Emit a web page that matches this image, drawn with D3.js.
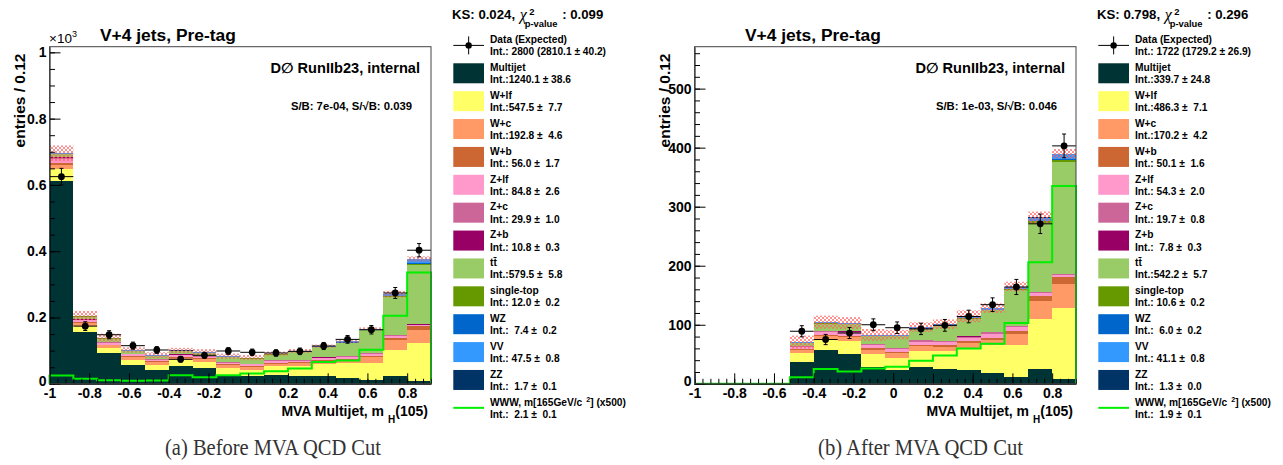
<!DOCTYPE html>
<html><head><meta charset="utf-8">
<script src="https://cdn.jsdelivr.net/npm/d3@7"></script>
<style>
body{margin:0;background:#fff}
svg{display:block;background:#fff}
</style>
</head><body>
<svg id="c" width="1283" height="465" font-family='"Liberation Sans",Arial,Helvetica,sans-serif'></svg>
<script>
// ---------------- data ----------------
const binEdges = [-1,-0.88,-0.76,-0.64,-0.52,-0.4,-0.28,-0.16,-0.04,0.08,0.2,0.32,0.44,0.56,0.68,0.8,0.92];
const seriesKeys = ["Multijet","W+lf","W+c","W+b","Z+lf","Z+c","Z+b","tt\u0304","single-top","WZ","VV","ZZ"];
const seriesColors = ["#003333","#ffff66","#ff9966","#cc6633","#ff99cc","#cc6699","#990066","#99cc66","#669900","#0066cc","#3399ff","#003366"];

// (a) Before MVA QCD cut  (entries per bin)
const beforeMultijet  = [612,156,93,57,43,53,47,25,23,28,25,23,18,10,23,8];
const beforeWlf       = [35,17,15,16,15,18,18,22,20,25,28,37,45,53,80,115];
const beforeWc        = [14,9,8,8,8,8,9,10,9,8,9,9,10,17,28,38];
const beforeWb        = [4,3,2.5,2.5,2.5,2.5,2.5,3,3,2.5,3,3,3,4,8,13];
const beforeZlf       = [12,6,5,5,4,5,5,4,4,5,4,5,5,6,5,3];
const beforeZc        = [5,2,2,2,1.5,1.5,1.5,1.5,1.5,2,1.5,2,2,2.5,2.5,1.5];
const beforeZb        = [2,1,0.7,0.7,0.6,0.6,0.6,0.6,0.5,0.6,0.5,0.6,0.7,1,1,0.7];
const beforeTtbar     = [8,9,10,8,9,9,9,14,15,17,25,30,40,68,115,180];
const beforeSingleTop = [0.5,0.5,0.5,0.4,0.4,0.5,0.5,0.6,0.6,0.6,0.6,0.7,0.8,1,2,3];
const beforeWZ        = [0.5,0.4,0.3,0.3,0.3,0.3,0.3,0.4,0.4,0.4,0.4,0.5,0.6,0.7,1,2];
const beforeVV        = [2,2,2,2,2,2,2,2,2,2,2,2.5,3,3,5,12];
const beforeZZ        = [0.1,0.1,0.1,0.1,0.1,0.1,0.1,0.1,0.1,0.1,0.1,0.1,0.1,0.1,0.2,0.3];
const beforeUnc       = [24,14,12,8,9,8,9,8,8,6,6,5,5,4,10,8];
const beforeData      = [625,174,148,115,102,74,86,99,95,93,98,114,134,163,274,403];
const beforeWWW       = [25,15,11,9,10,26,20,26,31,38,46,66,70,103,205,336];
const beforeInts = ["Int.:1240.1 \u00b1 38.6","Int.:547.5 \u00b1  7.7","Int.:192.8 \u00b1  4.6","Int.: 56.0 \u00b1  1.7","Int.: 84.8 \u00b1  2.6","Int.: 29.9 \u00b1  1.0","Int.: 10.8 \u00b1  0.3","Int.:579.5 \u00b1  5.8","Int.: 12.0 \u00b1  0.2","Int.:  7.4 \u00b1  0.2","Int.: 47.5 \u00b1  0.8","Int.:  1.7 \u00b1  0.1"];
const beforeDataInt = "Int.: 2800 (2810.1 \u00b1 40.2)";
const beforeSignalInt = "Int.:  2.1 \u00b1  0.1";
const beforeKS = ["KS: 0.024, ", ": 0.099"];
const beforeSB = "S/B: 7e-04, S/\u221AB: 0.039";
const beforeCaption = "(a) Before MVA QCD Cut";

// (b) After MVA QCD cut
const afterMultijet  = [0,0,0,0,36.7,58,51,29,24,29,25,22.6,18,12,25,8.5];
const afterWlf       = [0,0,0,0,16,15.5,21,22,20,27,30,36.8,47,54,85,119.5];
const afterWc        = [0,0,0,0,5,7,7,7,8,8,8,9.5,10,18,31,41.5];
const afterWb        = [0,0,0,0,1.5,2,2,2,2,2.5,2.5,3,3,6,8,11];
const afterZlf       = [0,0,0,0,3,5,5,5,5,5,5,6,7,6,5,4];
const afterZc        = [0,0,0,0,1,2,2,2,1.5,2,2,2,2.5,2,1.5,1.5];
const afterZb        = [0,0,0,0,0.4,0.6,0.6,0.5,0.5,0.5,0.5,0.6,0.7,0.7,0.5,0.5];
const afterTtbar     = [0,0,0,0,5,12,12,13,20,19,25,30,36,60,117,189];
const afterSingleTop = [0,0,0,0,0.3,0.5,0.5,0.5,0.5,0.6,0.6,0.8,1,1.2,2,3];
const afterWZ        = [0,0,0,0,0.2,0.3,0.3,0.3,0.3,0.4,0.4,0.5,0.5,0.8,1.5,2];
const afterVV        = [0,0,0,0,1.5,1.5,1.5,1.5,1.5,2,2,2.5,2.5,4,5,9];
const afterZZ        = [0,0,0,0,0.05,0.05,0.05,0.05,0.05,0.05,0.05,0.05,0.05,0.1,0.2,0.3];
const afterUnc       = [0,0,0,0,11,11,10,10,8,8,8,10,8,8,10,8];
const afterData      = [0,0,0,0,89,75,86,100,95,93,99,114,134,164,271,403];
const afterWWW       = [0,0,0,0,11,25,21,26,29,39,48,60,68,103,206,335];
const afterInts = ["Int.:339.7 \u00b1 24.8","Int.:486.3 \u00b1  7.1","Int.:170.2 \u00b1  4.2","Int.: 50.1 \u00b1  1.6","Int.: 54.3 \u00b1  2.0","Int.: 19.7 \u00b1  0.8","Int.:  7.8 \u00b1  0.3","Int.:542.2 \u00b1  5.7","Int.: 10.6 \u00b1  0.2","Int.:  6.0 \u00b1  0.2","Int.: 41.1 \u00b1  0.8","Int.:  1.3 \u00b1  0.0"];
const afterDataInt = "Int.: 1722 (1729.2 \u00b1 26.9)";
const afterSignalInt = "Int.:  1.9 \u00b1  0.1";
const afterKS = ["KS: 0.798, ", ": 0.296"];
const afterSB = "S/B: 1e-03, S/\u221AB: 0.046";
const afterCaption = "(b) After MVA QCD Cut";

// ticks
const xTickValues = [-1,-0.8,-0.6,-0.4,-0.2,0,0.2,0.4,0.6,0.8];
const xTickLabels = ["-1","-0.8","-0.6","-0.4","-0.2","0","0.2","0.4","0.6","0.8"];
const beforeYTickValues = [0,200,400,600,800,1000];
const beforeYTickLabels = ["0","0.2","0.4","0.6","0.8","1"];
const afterYTickValues = [0,100,200,300,400,500];
const afterYTickLabels = ["0","100","200","300","400","500"];

const titleText = "V+4 jets, Pre-tag";
const expText = "D\u2205 RunIIb23, internal";
const yLabelText = "entries / 0.12";
const dataLegendLabel = "Data (Expected)";
const signalLegendLabel = "WWW, m[165GeV/c";

// ---------------- drawing ----------------
const svg = d3.select("#c");
const defs = svg.append("defs");
const pat = defs.append("pattern").attr("id","hatch").attr("patternUnits","userSpaceOnUse")
  .attr("width",4).attr("height",4);
pat.append("path").attr("d","M-1,-1L5,5M5,-1L-1,5").attr("stroke","#ff6060").attr("stroke-width",0.7).attr("fill","none");

const FONT = '"Liberation Sans",Arial,Helvetica,sans-serif';
const SERIF = '"Liberation Serif","DejaVu Serif",serif';

function drawPanel(offsetX, cfg) {
  const g = svg.append("g").attr("transform", `translate(${offsetX},0)`).attr("font-family", FONT);
  const X0 = 49.5, X1 = 431, YB = 383.8, YT = 46.7;
  const x = d3.scaleLinear().domain([binEdges[0], binEdges[binEdges.length-1]]).range([X0, X1]);
  const y = d3.scaleLinear().domain([0, cfg.yMax]).range([YB, YT]);

  const rows = binEdges.slice(0,-1).map((lo,i) => {
    const r = {lo, hi: binEdges[i+1]};
    seriesKeys.forEach((k,j) => r[k] = cfg.series[j][i]);
    return r;
  });
  const stacked = d3.stack().keys(seriesKeys)(rows);
  const plot = g.append("g");
  stacked.forEach((layer, j) => {
    plot.append("g").attr("fill", seriesColors[j]).attr("shape-rendering","crispEdges")
      .selectAll("rect").data(layer.filter(d => d[1] - d[0] > 0)).join("rect")
      .attr("x", d => x(d.data.lo)).attr("width", d => x(d.data.hi) - x(d.data.lo))
      .attr("y", d => y(d[1])).attr("height", d => y(d[0]) - y(d[1]));
  });
  // uncertainty band
  const totals = rows.map(r => d3.sum(seriesKeys, k => r[k]));
  plot.append("g").selectAll("rect").data(rows.map((r,i) => ({r, t: totals[i], u: cfg.unc[i]})).filter(d => d.t > 0))
    .join("rect")
    .attr("x", d => x(d.r.lo)).attr("width", d => x(d.r.hi) - x(d.r.lo))
    .attr("y", d => y(d.t + d.u)).attr("height", d => y(d.t - d.u) - y(d.t + d.u))
    .attr("fill", "url(#hatch)");
  // signal step line
  const pts = [[binEdges[0], 0]];
  rows.forEach((r,i) => { pts.push([r.lo, cfg.www[i]]); pts.push([r.hi, cfg.www[i]]); });
  pts.push([binEdges[binEdges.length-1], 0]);
  plot.append("path").attr("d", d3.line().x(d => x(d[0])).y(d => y(d[1]))(pts))
    .attr("fill","none").attr("stroke","#00ee00").attr("stroke-width",2);
  // data points
  const dpts = rows.map((r,i) => ({r, v: cfg.data[i], e: Math.sqrt(cfg.data[i])})).filter(d => d.v > 0);
  const dg = plot.append("g").attr("stroke","#000").attr("stroke-width",1);
  dpts.forEach(d => {
    const cx = x((d.r.lo + d.r.hi)/2);
    dg.append("line").attr("x1", x(d.r.lo)).attr("x2", x(d.r.hi)).attr("y1", y(d.v)).attr("y2", y(d.v));
    dg.append("line").attr("x1", cx).attr("x2", cx).attr("y1", y(d.v - d.e)).attr("y2", y(d.v + d.e));
    dg.append("line").attr("x1", cx-2).attr("x2", cx+2).attr("y1", y(d.v - d.e)).attr("y2", y(d.v - d.e));
    dg.append("line").attr("x1", cx-2).attr("x2", cx+2).attr("y1", y(d.v + d.e)).attr("y2", y(d.v + d.e));
    dg.append("circle").attr("cx", cx).attr("cy", y(d.v)).attr("r", 3.4).attr("fill","#000").attr("stroke","none");
  });

  // axes
  const styleAxis = sel => sel.attr("font-family", FONT).attr("font-size", 14).attr("font-weight","bold")
    .call(s => s.selectAll("text").attr("fill","#000"))
    .call(s => s.selectAll("line,path").attr("stroke","#000"));
  g.append("g").attr("transform", `translate(${X0},0)`)
    .call(d3.axisLeft(y).tickValues(d3.range(0, cfg.yMax, cfg.yMinor)).tickFormat("").tickSize(-5.5).tickSizeOuter(0))
    .call(s => s.select(".domain").remove()).call(styleAxis);
  g.append("g").attr("transform", `translate(${X0},0)`)
    .call(d3.axisLeft(y).tickValues(cfg.yTicks).tickFormat((d,i) => cfg.yTickLabels[i]).tickSize(-11).tickSizeOuter(0).tickPadding(3))
    .call(styleAxis)
    .call(s => s.selectAll(".tick text").filter(d => d === 0).attr("dy", "0.1em"));
  g.append("g").attr("transform", `translate(0,${YB})`)
    .call(d3.axisBottom(x).tickValues(d3.range(-1, 0.9201, 0.04)).tickFormat("").tickSize(-5).tickSizeOuter(0))
    .call(s => s.select(".domain").remove()).call(styleAxis);
  g.append("g").attr("transform", `translate(0,${YB})`)
    .call(d3.axisBottom(x).tickValues(xTickValues).tickFormat((d,i) => xTickLabels[i]).tickSize(-10.5).tickSizeOuter(0).tickPadding(4.5))
    .call(styleAxis);
  // frame
  g.append("rect").attr("x", X0).attr("y", YT).attr("width", X1 - X0).attr("height", YB - YT)
    .attr("fill","none").attr("stroke","#444").attr("stroke-width",1);

  // texts
  g.append("text").attr("x", 100).attr("y", 40.5).attr("font-size", 17.4).attr("font-weight","bold").text(titleText);
  g.append("text").attr("x", 420).attr("y", 73).attr("text-anchor","end").attr("font-size", 14.6).attr("font-weight","bold")
    .attr("font-family", '"Liberation Sans","DejaVu Sans",sans-serif').text(expText);
  g.append("text").attr("x", 412).attr("y", 110).attr("text-anchor","end").attr("font-size", 11.3).attr("font-weight","bold").text(cfg.sb);
  g.append("text").attr("transform","translate(25,53.5) rotate(-90)").attr("text-anchor","end")
    .attr("font-size", 15.5).attr("font-weight","bold").text(yLabelText);
  const xt = g.append("text").attr("x", 428).attr("y", 416).attr("text-anchor","end").attr("font-size", 14).attr("font-weight","bold");
  xt.append("tspan").text("MVA Multijet, m");
  xt.append("tspan").attr("dx", 4).attr("dy", 7).attr("font-size", 10).text("H");
  xt.append("tspan").attr("dy", -7).text("(105)");
  if (cfg.exp) {
    const et = g.append("text").attr("x", 49).attr("y", 43.3).attr("font-size", 13.5);
    et.append("tspan").text("\u00d710");
    et.append("tspan").attr("dy", -6).attr("font-size", 9).text("3");
  }
  g.append("text").attr("x", cfg.capX).attr("y", 455).attr("text-anchor","middle")
    .attr("font-family", SERIF).attr("font-size", 24).attr("fill","#333")
    .attr("textLength", cfg.capW).attr("lengthAdjust","spacingAndGlyphs").text(cfg.caption);

  // legend
  const lg = g.append("g").attr("font-weight","bold");
  const ks = lg.append("text").attr("x", 452).attr("y", 19.3).attr("font-size", 13.2).style("white-space","pre").text(cfg.ks[0]);
  const cx0 = 452 + ks.node().getComputedTextLength() + 1;
  lg.append("text").attr("x", cx0).attr("y", 20).attr("font-size", 16).attr("font-style","italic").attr("font-weight","normal")
    .attr("font-family", SERIF).text("\u03c7");
  lg.append("text").attr("x", cx0 + 9.5).attr("y", 14.5).attr("font-size", 9.4).text("2");
  lg.append("text").attr("x", cx0 + 5).attr("y", 27).attr("font-size", 9.4).text("p-value");
  lg.append("text").attr("x", cx0 + 42.5).attr("y", 19.3).attr("font-size", 13.2).style("white-space","pre").text(cfg.ks[1]);

  const top = i => 35.4 + 27.88 * i;
  const BX = 453.3, BW = 30.7, TX = 490, FS = 10.2;
  const twoLine = (i, l2) => {
    const t1 = lg.append("text").attr("x", TX).attr("y", top(i) + 7.7).attr("font-size", FS).style("white-space","pre");
    lg.append("text").attr("x", TX).attr("y", top(i) + 20).attr("font-size", FS).style("white-space","pre").text(l2);
    return t1;
  };
  // data entry
  lg.append("line").attr("x1", BX).attr("x2", BX + BW).attr("y1", top(0) + 10).attr("y2", top(0) + 10).attr("stroke","#000");
  lg.append("line").attr("x1", BX + BW/2).attr("x2", BX + BW/2).attr("y1", top(0) + 1).attr("y2", top(0) + 19).attr("stroke","#000");
  lg.append("circle").attr("cx", BX + BW/2).attr("cy", top(0) + 10).attr("r", 3.2).attr("fill","#000");
  twoLine(0, cfg.dataInt).text(dataLegendLabel);
  seriesKeys.forEach((k, j) => {
    const i = j + 1;
    lg.append("rect").attr("x", BX).attr("y", top(i)).attr("width", BW).attr("height", 20).attr("fill", seriesColors[j]);
    twoLine(i, cfg.ints[j]).text(k);
  });
  const iS = seriesKeys.length + 1;
  lg.append("line").attr("x1", BX).attr("x2", BX + BW).attr("y1", top(iS) + 10).attr("y2", top(iS) + 10)
    .attr("stroke","#00ee00").attr("stroke-width",2);
  const st = twoLine(iS, cfg.signalInt);
  st.append("tspan").text(signalLegendLabel);
  st.append("tspan").attr("dx", 4).attr("dy", -3.5).attr("font-size", 7).text("2");
  st.append("tspan").attr("dy", 3.5).text("] (x500)");
}

drawPanel(0, {
  series: [beforeMultijet,beforeWlf,beforeWc,beforeWb,beforeZlf,beforeZc,beforeZb,beforeTtbar,beforeSingleTop,beforeWZ,beforeVV,beforeZZ],
  unc: beforeUnc, data: beforeData, www: beforeWWW,
  yMax: 1017, yMinor: 50, yTicks: beforeYTickValues, yTickLabels: beforeYTickLabels,
  ints: beforeInts, dataInt: beforeDataInt, signalInt: beforeSignalInt,
  ks: beforeKS, sb: beforeSB, caption: beforeCaption, capX: 273, capW: 216, exp: true
});
drawPanel(645, {
  series: [afterMultijet,afterWlf,afterWc,afterWb,afterZlf,afterZc,afterZb,afterTtbar,afterSingleTop,afterWZ,afterVV,afterZZ],
  unc: afterUnc, data: afterData, www: afterWWW,
  yMax: 571, yMinor: 20, yTicks: afterYTickValues, yTickLabels: afterYTickLabels,
  ints: afterInts, dataInt: afterDataInt, signalInt: afterSignalInt,
  ks: afterKS, sb: afterSB, caption: afterCaption, capX: 275.5, capW: 205, exp: false
});
</script>
</body></html>
